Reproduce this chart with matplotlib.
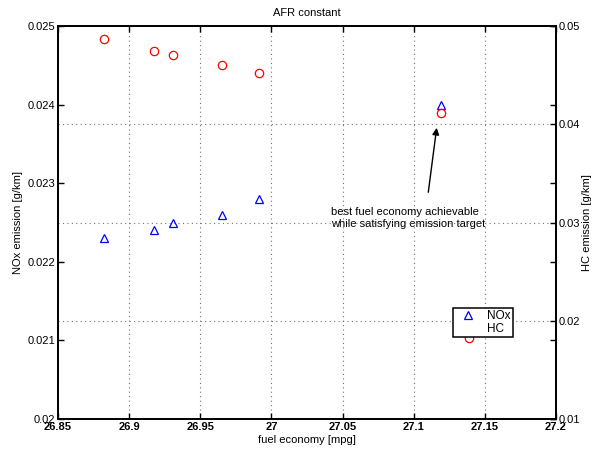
import matplotlib.pyplot as plt
import numpy as np

plt.rcParams['font.family'] = ['Liberation Sans', 'DejaVu Sans']
plt.rcParams['font.size'] = 8

# fuel economy [mpg] for each operating point
fuel_economy = [26.882, 26.9175, 26.931, 26.965, 26.991, 27.119, 27.139]
# NOx emission [g/km]
nox = [0.0223, 0.0224, 0.0225, 0.0226, 0.0228, 0.0240, 0.02122]
# HC emission [g/km]
hc = [0.0487, 0.0475, 0.0471, 0.0460, 0.0452, 0.0411, 0.0182]

x_ticks = [26.85, 26.9, 26.95, 27.0, 27.05, 27.1, 27.15, 27.2]
x_ticklabels = ['26.85', '26.9', '26.95', '27', '27.05', '27.1', '27.15', '27.2']
nox_ticks = [0.020, 0.021, 0.022, 0.023, 0.024, 0.025]
hc_ticks = [0.01, 0.02, 0.03, 0.04, 0.05]

fig = plt.figure(figsize=(5.94, 4.5), dpi=100)
ax1 = fig.add_axes([0.0976, 0.0689, 0.8384, 0.8733])
ax2 = ax1.twinx()

h1, = ax1.plot(fuel_economy, nox, linestyle='none', marker='^', markersize=6,
               markerfacecolor='none', markeredgecolor='blue', markeredgewidth=0.9)
ax2.plot(fuel_economy, hc, linestyle='none', marker='o', markersize=6,
         markerfacecolor='none', markeredgecolor='red', markeredgewidth=0.9)

ax1.set_xlim(26.85, 27.2)
ax1.set_ylim(0.02, 0.025)
ax2.set_ylim(0.01, 0.05)
ax1.set_xticks(x_ticks)
ax1.set_xticklabels(x_ticklabels, fontweight='bold')
ax1.set_yticks(nox_ticks)
ax1.set_yticklabels(['0.02', '0.021', '0.022', '0.023', '0.024', '0.025'])
ax2.set_yticks(hc_ticks)
ax2.set_yticklabels(['0.01', '0.02', '0.03', '0.04', '0.05'])

for ax in (ax1, ax2):
    for s in ax.spines.values():
        s.set_linewidth(1.3)
    ax.tick_params(direction='in', length=4, width=1, pad=2)
ax1.tick_params(axis='x', top=True)
ax1.tick_params(axis='y', right=True, labelright=False)

grid_kw = dict(color='0.45', linestyle=(0, (1, 3)), linewidth=0.8)
ax1.xaxis.grid(True, **grid_kw)
ax2.yaxis.grid(True, **grid_kw)

ax1.set_xlabel('fuel economy [mpg]', labelpad=2)
ax1.set_ylabel('NOx emission [g/km]')
ax1.yaxis.set_label_coords(-0.07, 0.5)
ax2.set_ylabel('HC emission [g/km]', rotation=90)
ax2.yaxis.set_label_coords(1.052, 0.5)
ax1.set_title('AFR constant', fontsize=8, pad=7)

ax1.annotate('', xy=(27.1164, 0.02374), xytext=(27.110, 0.02285),
             arrowprops=dict(arrowstyle='-|>', color='black', lw=1, mutation_scale=10))
ax1.text(27.0419, 0.02270, 'best fuel economy achievable\nwhile satisfying emission target',
         ha='left', va='top', linespacing=1.3)

h2, = ax2.plot([], [], linestyle='none', marker='none')
leg = ax2.legend([h1, h2], ['NOx', 'HC'], loc='center',
                 bbox_to_anchor=(0.8535, 0.2455),
                 fancybox=False, framealpha=1, edgecolor='black',
                 handlelength=2.2, handletextpad=0.5, borderpad=0.2,
                 borderaxespad=0, labelspacing=0.05, fontsize=8.5)
leg.get_frame().set_linewidth(1.1)
leg.set_zorder(10)

fig.savefig('out.png', dpi=100)
